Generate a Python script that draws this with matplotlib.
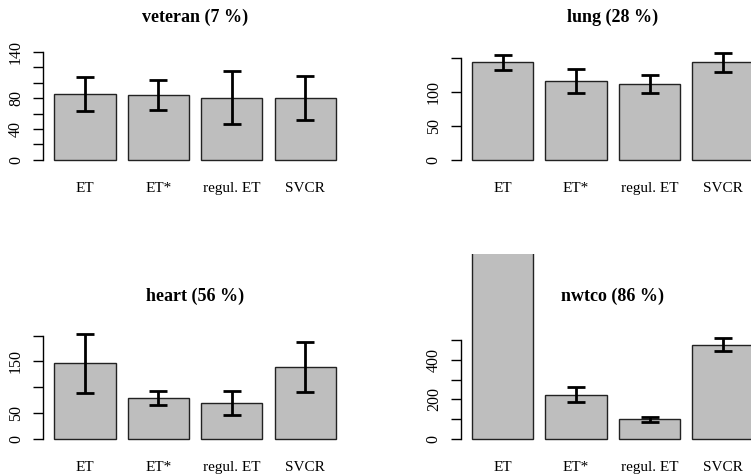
import matplotlib
matplotlib.use("Agg")
import matplotlib.pyplot as plt
from matplotlib.transforms import Bbox

plt.rcParams['font.family'] = ['Liberation Serif', 'DejaVu Serif']

methods = ["ET", "ET*", "regul. ET", "SVCR"]

# mean value with lower / upper end of the error bar, one panel per dataset
titles = ["veteran (7 %)", "lung (28 %)", "heart (56 %)", "nwtco (86 %)"]

veteran_mean = [85, 83.5, 80.5, 79.5]
veteran_low = [63, 65, 46.5, 52]
veteran_high = [107, 103, 115, 108]

lung_mean = [144, 117, 112.5, 144]
lung_low = [132, 99.5, 99.5, 129.5]
lung_high = [155, 134, 126, 158]

heart_mean = [146, 78.5, 69, 138.5]
heart_low = [89.5, 66, 45.5, 90.5]
heart_high = [203, 92, 92, 187]

# ET on nwtco runs off the top of the panel
nwtco_mean = [1050, 224, 98, 478]
nwtco_low = [990, 187, 85, 443]
nwtco_high = [1110, 262, 111, 513]

W, H = 751, 474
fig = plt.figure(figsize=(W / 100, H / 100), dpi=100)

panels = [
    (veteran_mean, veteran_low, veteran_high, 140, range(0, 141, 20), {0, 40, 80, 140}),
    (lung_mean, lung_low, lung_high, 159.8, range(0, 151, 50), {0, 50, 100}),
    (heart_mean, heart_low, heart_high, 210.4, range(0, 201, 50), {0, 50, 150}),
    (nwtco_mean, nwtco_low, nwtco_high, 550.5, range(0, 501, 100), {0, 200, 400}),
]

# plot regions in pixels (left, top) measured from the top-left corner
lefts = [43.1, 460.8, 43.1, 460.8]
tops = [47.3, 47.3, 326.0, 326.0]
pw, ph = 304.0, 117.0
# figure regions used to clip bars that run out of the plot
clip_regions = [(0, 0, 375.5, 237), (375.5, 0, 751, 237),
                (0, 253.7, 375.5, 474), (375.5, 253.7, 751, 474)]

pos = [0.7, 1.9, 3.1, 4.3]

for i, (mean, low, high, top, ticks, shown) in enumerate(panels):
    ax = fig.add_axes([lefts[i] / W, (H - tops[i] - ph) / H, pw / W, ph / H])
    x0, y0, x1, y1 = clip_regions[i]
    clip = Bbox([[x0, H - y1], [x1, H - y0]])

    bars = ax.bar(pos, mean, width=1, color="#bebebe", edgecolor="#222222",
                  linewidth=1)
    err = [[m - l for m, l in zip(mean, low)], [h - m for m, h in zip(mean, high)]]
    eb = ax.errorbar(pos, mean, yerr=err, fmt="none", ecolor="black",
                     elinewidth=2, capsize=6.7, capthick=2)
    artists = list(bars) + list(eb.lines[1]) + list(eb.lines[2])
    for a in artists:
        a.set_clip_on(True)
        a.set_clip_box(clip)

    ax.set_xlim(0.016, 4.984)
    ax.set_ylim(-0.04 * top, 1.04 * top)

    for s in ["top", "right", "bottom"]:
        ax.spines[s].set_visible(False)
    ax.spines["left"].set_bounds(ticks[0], ticks[-1])
    ax.spines["left"].set_linewidth(1)

    ax.set_yticks(list(ticks))
    ax.set_yticklabels([str(t) if t in shown else "" for t in ticks],
                       rotation=90, va="center", fontsize=11.5)
    ax.tick_params(axis="y", length=7.2, width=1, pad=6.5)

    ax.set_xticks(pos)
    ax.set_xticklabels(methods, fontsize=11)
    ax.tick_params(axis="x", length=0, pad=13)

    ax.text(0.5, 1 + 30 / ph, titles[i], transform=ax.transAxes,
            ha="center", va="center", fontsize=13, fontweight="bold")

fig.savefig("out.png", dpi=100)
